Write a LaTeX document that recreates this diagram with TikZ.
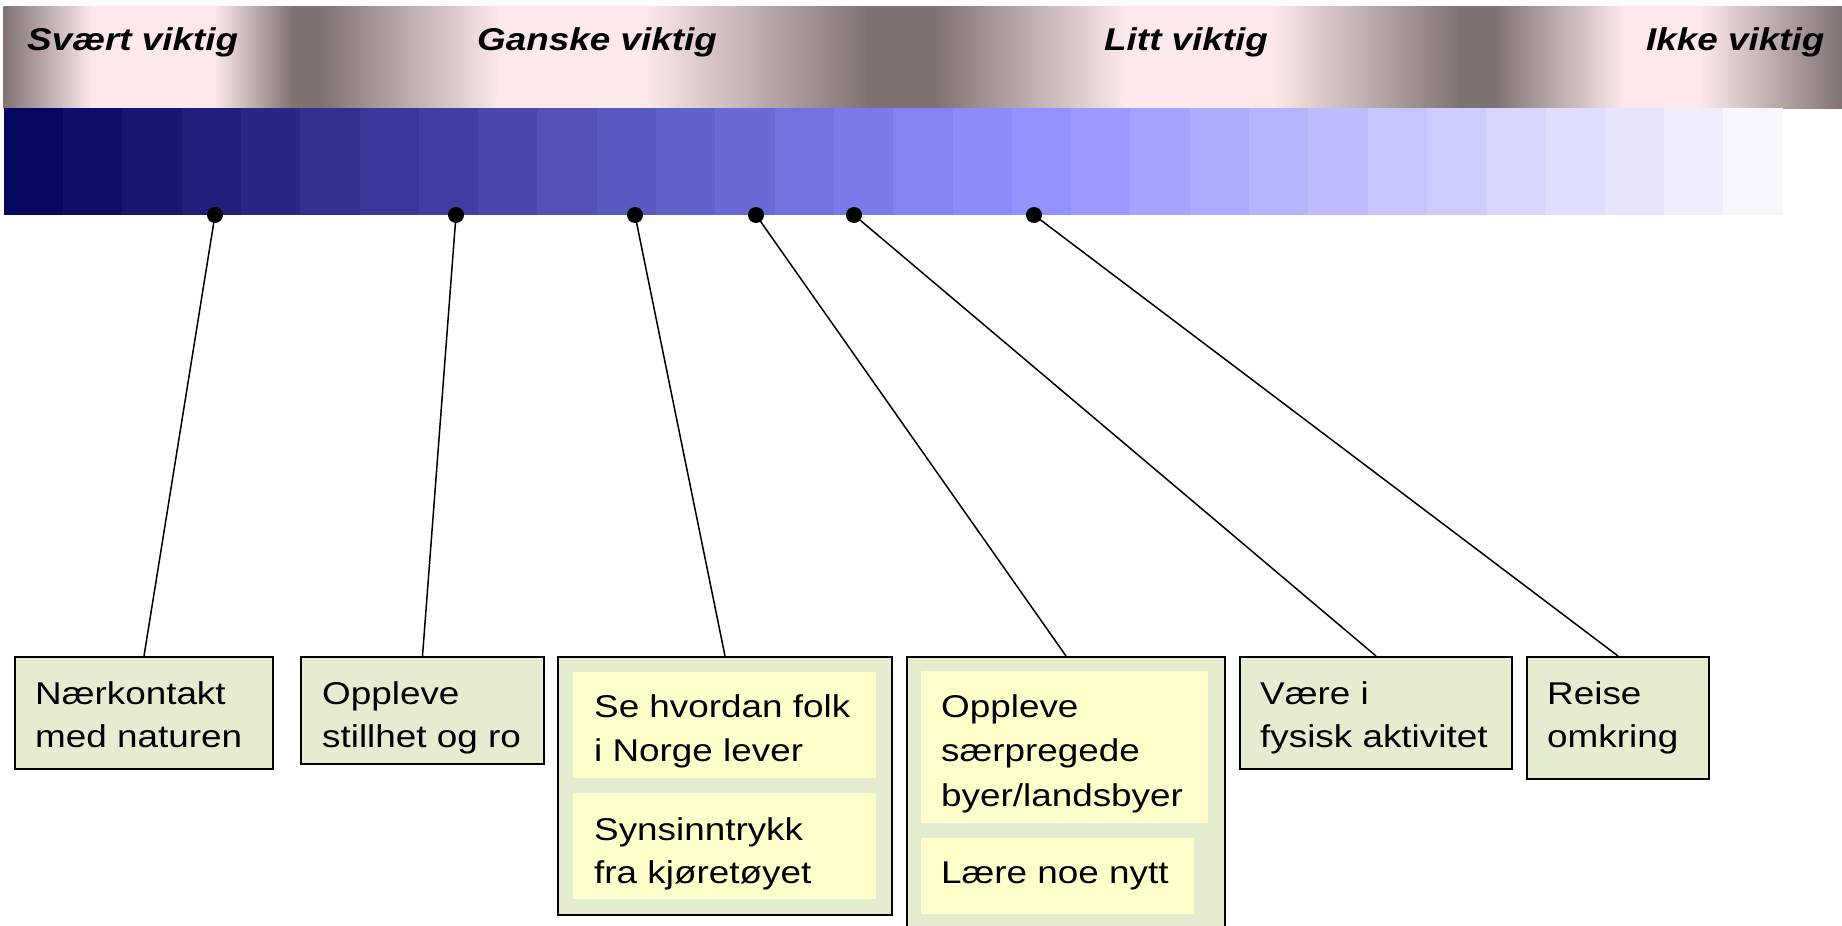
\documentclass[tikz,border=0pt]{standalone}
\usepackage{fontspec}
\setmainfont{Liberation Sans}[FakeStretch=1.17]
\definecolor{dk}{RGB}{127,115,114}
\definecolor{lt}{RGB}{253,233,233}
\definecolor{boxgreen}{RGB}{228,237,208}
\definecolor{boxyellow}{RGB}{255,255,204}
\begin{document}
\begin{tikzpicture}[x=1pt,y=-1pt,
  gbox/.style={draw=black, line width=2pt, fill=boxgreen, inner sep=0pt, anchor=north west},
  ybox/.style={fill=boxyellow, draw=none, inner sep=0pt, anchor=north west},
  lbl/.style={anchor=base west, inner sep=0pt, font=\fontsize{31.5}{44}\selectfont},
  hdr/.style={anchor=base west, inner sep=0pt, font=\fontsize{31.5}{44}\selectfont\bfseries\itshape},
  dot/.style={circle, fill=black, inner sep=0pt, minimum size=16pt},
  link/.style={line width=1.5pt, black}]
\useasboundingbox (0,0) rectangle (1842,926);
\clip (0,0) rectangle (1842,926);
\fill[white] (0,0) rectangle (1842,926);
% metallic header bar
\foreach \xa/\xb/\ca/\cb in {4/92/dk/lt, 92/215/lt/lt, 215/292/lt/dk, 292/322/dk/dk,
  322/499/dk/lt, 499/645/lt/lt, 645/868/lt/dk, 868/935/dk/dk, 935/1125/dk/lt,
  1125/1272/lt/lt, 1272/1460/lt/dk, 1460/1495/dk/dk, 1495/1624/dk/lt,
  1624/1700/lt/lt, 1700/1842/lt/dk}
  \shade[left color=\ca, right color=\cb] (\xa-0.5,6) rectangle (\xb+0.5,108);
% blue scale
\foreach \i in {0,...,29}{
  \pgfmathtruncatemacro{\rr}{round(6+8.3*\i)}
  \pgfmathtruncatemacro{\bb}{min(255,94+10*\i)}
  \definecolor{cellc}{RGB}{\rr,\rr,\bb}
  \fill[cellc] ({4+59.3*\i-0.3},108) rectangle ({4+59.3*(\i+1)+0.3},215);
}
% header texts
\node[hdr] (h1) at (27,50) {Svært viktig};
\node[hdr] (h2) at (477,50) {Ganske viktig};
\node[hdr] (h3) at (1104,50) {Litt viktig};
\node[hdr] (h4) at (1646,50) {Ikke viktig};
% boxes
\node[gbox, minimum width=258pt, minimum height=112pt] (b1) at (14,656) {};
\node[gbox, minimum width=243pt, minimum height=107pt] (b2) at (300,656) {};
\node[gbox, minimum width=334pt, minimum height=258pt] (b3) at (557,656) {};
\node[ybox, minimum width=303pt, minimum height=106pt] (b3a) at (573,672) {};
\node[ybox, minimum width=303pt, minimum height=106pt] (b3b) at (573,793) {};
\node[gbox, minimum width=318pt, minimum height=300pt] (b4) at (906,656) {};
\node[ybox, minimum width=287pt, minimum height=152pt] (b4a) at (921,671) {};
\node[ybox, minimum width=273pt, minimum height=76pt] (b4b) at (921,838) {};
\node[gbox, minimum width=272pt, minimum height=112pt] (b5) at (1239,656) {};
\node[gbox, minimum width=182pt, minimum height=122pt] (b6) at (1526,656) {};
% texts
\node[lbl] (t1a) at (35,704) {Nærkontakt};
\node[lbl] (t1b) at (35,747) {med naturen};
\node[lbl] (t2a) at (322,704) {Oppleve};
\node[lbl] (t2b) at (322,747) {stillhet og ro};
\node[lbl] (t3a) at (594,717) {Se hvordan folk};
\node[lbl] (t3b) at (594,761) {i Norge lever};
\node[lbl] (t3c) at (594,840) {Synsinntrykk};
\node[lbl] (t3d) at (594,883) {fra kjøretøyet};
\node[lbl] (t4a) at (941,717) {Oppleve};
\node[lbl] (t4b) at (941,761) {særpregede};
\node[lbl] (t4c) at (941,806) {byer/landsbyer};
\node[lbl] (t4d) at (941,883) {Lære noe nytt};
\node[lbl] (t5a) at (1260,704) {Være i};
\node[lbl] (t5b) at (1260,747) {fysisk aktivitet};
\node[lbl] (t6a) at (1547,704) {Reise};
\node[lbl] (t6b) at (1547,747) {omkring};
% dots
\node[dot] (d1) at (215,215) {};
\node[dot] (d2) at (456,215) {};
\node[dot] (d3) at (635,215) {};
\node[dot] (d4) at (756,215) {};
\node[dot] (d5) at (854,215) {};
\node[dot] (d6) at (1034,215) {};
% connectors
\draw[link] (d1.center) -- (b1.north);
\draw[link] (d2.center) -- (b2.north);
\draw[link] (d3.center) -- (b3.north);
\draw[link] (d4.center) -- (b4.north);
\draw[link] (d5.center) -- (b5.north);
\draw[link] (d6.center) -- (b6.north);
\end{tikzpicture}
\end{document}
